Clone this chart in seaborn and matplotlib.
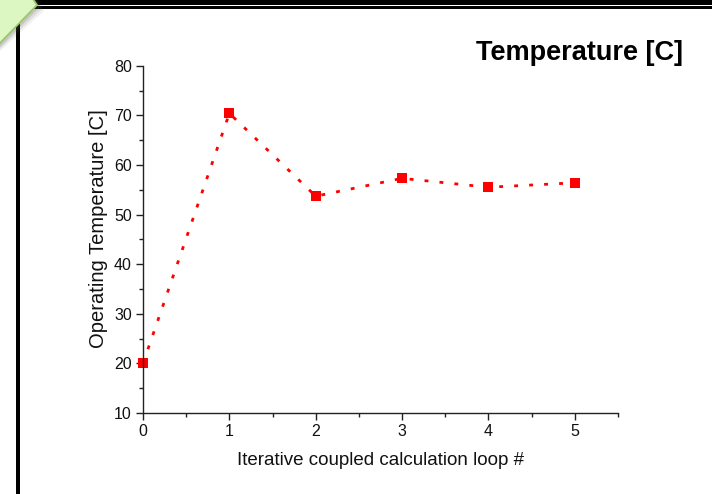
import matplotlib
matplotlib.use("Agg")
import matplotlib.pyplot as plt
from matplotlib.patches import Rectangle, Polygon
from matplotlib.ticker import MultipleLocator
import seaborn as sns
import pandas as pd

# Convergence of the operating temperature over coupled iterations
loops = [0, 1, 2, 3, 4, 5]
temperature = [20.0, 70.4, 53.7, 57.3, 55.5, 56.4]

sns.set_theme(style="ticks")
plt.rcParams["font.family"] = ["Liberation Sans", "DejaVu Sans"]

W, H = 712, 494
fig = plt.figure(figsize=(W / 100, H / 100), dpi=100)
ax = fig.add_axes([143 / W, 1 - 413 / H, (618 - 143) / W, (413 - 65.7) / H])

df = pd.DataFrame({"loop": loops, "temp": temperature})
sns.lineplot(data=df, x="loop", y="temp", ax=ax, color="#ff0000",
             linewidth=2.0, linestyle=(0, (1.4, 4.0)), marker="s",
             markersize=7, markeredgewidth=0, clip_on=False)

ax.set_xlim(0, 5.5)
ax.set_ylim(10, 80)
ax.xaxis.set_major_locator(MultipleLocator(1))
ax.xaxis.set_minor_locator(MultipleLocator(0.5))
ax.yaxis.set_major_locator(MultipleLocator(10))
ax.yaxis.set_minor_locator(MultipleLocator(5))
ax.tick_params(which="major", length=5, width=1, color="#222222",
               labelsize=11.5, labelcolor="#111111", pad=3)
ax.tick_params(which="minor", length=3, width=1, color="#222222")
for side in ("top", "right"):
    ax.spines[side].set_visible(False)
for side in ("left", "bottom"):
    ax.spines[side].set_color("#222222")
    ax.spines[side].set_linewidth(1.0)

ax.set_xlabel("Iterative coupled calculation loop #", fontsize=13.5,
              color="#111111", labelpad=9)
ax.set_ylabel("Operating Temperature [C]", fontsize=14.5,
              color="#111111", labelpad=3)
ax.yaxis.set_label_coords(-0.073, 0.53)

fig.text(683 / W, 1 - 53 / H, "Temperature [C]", ha="right", va="center",
         fontsize=19.5, fontweight="bold", color="black")

# Slide frame: double rule at the top and a bar down the left side
def px_rect(x, y, w, h, color):
    fig.add_artist(Rectangle((x / W, 1 - (y + h) / H), w / W, h / H,
                             transform=fig.transFigure, color=color,
                             linewidth=0))

px_rect(0, 0, W, 5, "black")
px_rect(0, 6.2, W, 3, "black")
px_rect(16, 8, 4, H - 8, "black")

# Green corner tab with a soft shadow
def px_poly(pts, **kw):
    fig.add_artist(Polygon([(x / W, 1 - y / H) for x, y in pts],
                           closed=True, transform=fig.transFigure, **kw))

for i, a in enumerate([0.08, 0.12, 0.18]):
    o = 6 - 2 * i
    px_poly([(34 + o, 0), (38 + o, 5 + o), (0, 45 + o), (0, 0)],
            facecolor="#555555", alpha=a, linewidth=0)
px_poly([(-1, -1), (33, -1), (37, 5), (-1, 44)],
        facecolor="#dcf7c2", edgecolor="#9cc46a", linewidth=1.2)

fig.savefig("out.png", dpi=100)
